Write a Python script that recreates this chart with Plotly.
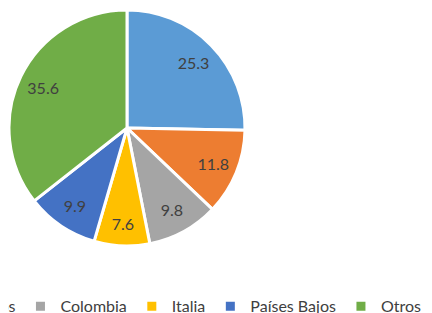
import plotly.graph_objects as go

labels = ["China", "Estados Unidos", "Colombia", "Italia", "Países Bajos", "Otros"]
values = [25.3, 11.8, 9.8, 7.6, 9.9, 35.6]
colors = ["#5B9BD5", "#ED7D31", "#A5A5A5", "#FFC000", "#4472C4", "#70AD47"]

# figure is wider than the window: the reference is a crop of a wider chart
W, H = 700, 313
MB = 32
PH = H - MB
cx, cy, r = 119, 120, 118
dom = dict(x=[(cx - r) / W, (cx + r) / W], y=[(PH - cy - r) / PH, (PH - cy + r) / PH])

fig = go.Figure()
# coloured slices
fig.add_trace(go.Pie(
    labels=labels,
    values=values,
    sort=False,
    direction="clockwise",
    rotation=0,
    marker=dict(colors=colors, line=dict(color="white", width=3)),
    textinfo="none",
    hoverinfo="label+value",
    domain=dom,
))
# value labels, placed towards the rim like the reference
fig.add_trace(go.Pie(
    labels=labels,
    values=values,
    sort=False,
    direction="clockwise",
    rotation=0,
    hole=0.58,
    marker=dict(colors=["rgba(0,0,0,0)"] * len(values), line=dict(width=0)),
    textinfo="value",
    texttemplate="%{value:.1f}",
    textposition="inside",
    insidetextorientation="horizontal",
    textfont=dict(family="Lato", size=16, color="#404040"),
    hoverinfo="skip",
    showlegend=False,
    domain=dom,
))

fig.update_layout(
    width=W, height=H,
    margin=dict(l=0, r=0, t=0, b=MB, autoexpand=False),
    paper_bgcolor="white",
    showlegend=True,
    legend=dict(
        orientation="h",
        x=419 / W, xanchor="right",
        y=-0.001, yanchor="top",
        font=dict(family="Lato", size=16, color="#404040"),
        bgcolor="rgba(0,0,0,0)",
    ),
)

fig.write_html("out.html")
